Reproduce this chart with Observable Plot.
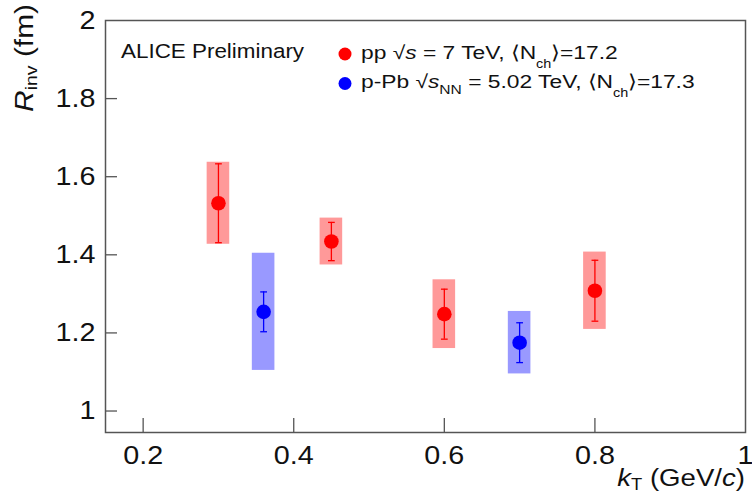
<!DOCTYPE html>
<html>
<head>
<meta charset="utf-8">
<script src="https://cdn.jsdelivr.net/npm/d3@7"></script>
<script src="https://cdn.jsdelivr.net/npm/@observablehq/plot@0.6"></script>
<style>
  html, body { margin: 0; padding: 0; background: #fff; }
  #chart { position: relative; width: 752px; height: 493px; }
  svg text { font-family: "Liberation Sans", Arial, Helvetica, sans-serif; }
</style>
</head>
<body>
<div id="chart"></div>
<script>
// ---- data ----
const ppKt    = [0.30, 0.45, 0.60, 0.80];
const ppR     = [1.532, 1.434, 1.248, 1.308];
const ppStat  = [0.101, 0.049, 0.064, 0.078];
const ppSys   = [0.105, 0.060, 0.088, 0.099];

const pPbKt   = [0.36, 0.70];
const pPbR    = [1.254, 1.175];
const pPbStat = [0.051, 0.051];
const pPbSys  = [0.150, 0.080];

const xTicks = [0.2, 0.4, 0.6, 0.8, 1.0];
const xTickLabels = ["0.2", "0.4", "0.6", "0.8", "1"];
const yTicks = [1.0, 1.2, 1.4, 1.6, 1.8, 2.0];
const yTickLabels = ["1", "1.2", "1.4", "1.6", "1.8", "2"];

const seriesNames = ["pp", "p-Pb"];
const seriesColors = ["#ff0000", "#0000ff"];
const boxColors = ["#ff9999", "#9999ff"];

// ---- build tables ----
const pp = ppKt.map((k, i) => ({kt: k, r: ppR[i], stat: ppStat[i], sys: ppSys[i]}));
const pPb = pPbKt.map((k, i) => ({kt: k, r: pPbR[i], stat: pPbStat[i], sys: pPbSys[i]}));

const W = 752, H = 493;
const mL = 105, mR = 7, mT = 20, mB = 61;
const boxHalf = 0.015;   // systematic box half-width (x units)
const capHalf = 0.0045;  // error-bar cap half-width (x units)
const frameW = W - mL - mR, frameH = H - mT - mB;

function seriesMarks(data, color, box) {
  return [
    Plot.rect(data, {x1: d => d.kt - boxHalf, x2: d => d.kt + boxHalf, y1: d => d.r - d.sys, y2: d => d.r + d.sys, fill: box}),
    Plot.ruleX(data, {x: "kt", y1: d => d.r - d.stat, y2: d => d.r + d.stat, stroke: color, strokeWidth: 1.3}),
    Plot.link(data, {x1: d => d.kt - capHalf, x2: d => d.kt + capHalf, y1: d => d.r + d.stat, y2: d => d.r + d.stat, stroke: color, strokeWidth: 1.3}),
    Plot.link(data, {x1: d => d.kt - capHalf, x2: d => d.kt + capHalf, y1: d => d.r - d.stat, y2: d => d.r - d.stat, stroke: color, strokeWidth: 1.3}),
    Plot.dot(data, {x: "kt", y: "r", r: 7.3, fill: color, stroke: "none"})
  ];
}

const chart = Plot.plot({
  width: W, height: H,
  marginLeft: mL, marginRight: mR, marginTop: mT, marginBottom: mB,
  style: {background: "#fff", color: "#111", fontFamily: "Liberation Sans, Arial, sans-serif"},
  x: {domain: [0.15, 1.0]},
  y: {domain: [0.945, 2.0]},
  marks: [
    ...seriesMarks(pPb, seriesColors[1], boxColors[1]),
    ...seriesMarks(pp, seriesColors[0], boxColors[0]),
    // inward ticks
    Plot.ruleX(xTicks.slice(0, 4), {x: d => d, insetTop: frameH - 14, stroke: "#555", strokeWidth: 1.3}),
    Plot.ruleY(yTicks.slice(0, 5), {y: d => d, insetRight: frameW - 12, stroke: "#555", strokeWidth: 1.3}),
    Plot.frame({stroke: "#555", strokeWidth: 1.5}),
    Plot.axisX(xTicks, {tickSize: 0, tickPadding: 14, fontSize: 25, tickFormat: (d, i) => xTickLabels[i], label: null}),
    Plot.axisY(yTicks, {tickSize: 0, tickPadding: 10, fontSize: 25, tickFormat: (d, i) => yTickLabels[i], label: null})
  ]
});

document.getElementById("chart").appendChild(chart);

const svg = d3.select(chart);
const SX = 1.15;

// stretch axis tick labels horizontally like the reference
svg.selectAll("g[aria-label$='tick label'] text").each(function() {
  const t = this.getAttribute("transform") || "";
  this.setAttribute("transform", t + ` scale(${SX},1)`);
});

function label(x, y, parts, opts = {}) {
  const sx = opts.sx || SX;
  const t = svg.append("text")
    .attr("transform", `translate(${x},${y})` + (opts.rotate ? ` rotate(${opts.rotate})` : "") + ` scale(${sx},1)`)
    .attr("text-anchor", opts.anchor || "start")
    .attr("font-size", opts.size)
    .attr("fill", "#111");
  for (const p of parts) {
    const s = t.append("tspan").text(p.t);
    if (p.italic) s.attr("font-style", "italic");
    if (p.size) s.attr("font-size", p.size);
    if (p.dy) s.attr("dy", p.dy);
  }
  return t;
}

// axis titles
label(745, 486, [
  {t: "k", italic: true},
  {t: "T", size: 16, dy: 4},
  {t: " (GeV/", dy: -4},
  {t: "c", italic: true},
  {t: ")"}
], {anchor: "end", size: 24});

label(33, 4, [
  {t: "R", italic: true},
  {t: "inv", size: 17, dy: 4},
  {t: " (fm)", dy: -4}
], {anchor: "end", size: 26, rotate: -90});

// header text
label(121, 58, [{t: "ALICE Preliminary"}], {size: 19.5});

// legend
const legendRows = [
  [
    {t: seriesNames[0] + " "},
    {t: "√"},
    {t: "s", italic: true},
    {t: " = 7 TeV, ⟨N"},
    {t: "ch", size: 12, dy: 9},
    {t: "⟩=17.2", dy: -9}
  ],
  [
    {t: seriesNames[1] + " "},
    {t: "√"},
    {t: "s", italic: true},
    {t: "NN", size: 13, dy: 6},
    {t: " = 5.02 TeV, ⟨N", dy: -6},
    {t: "ch", size: 12, dy: 9},
    {t: "⟩=17.3", dy: -9}
  ]
];
const legendY = [54, 83.5];
legendRows.forEach((parts, i) => {
  svg.append("circle").attr("cx", 345).attr("cy", legendY[i]).attr("r", 6.5).attr("fill", seriesColors[i]);
  label(361, legendY[i] + 4.5, parts, {size: 19, sx: 1.2});
});
</script>
</body>
</html>
